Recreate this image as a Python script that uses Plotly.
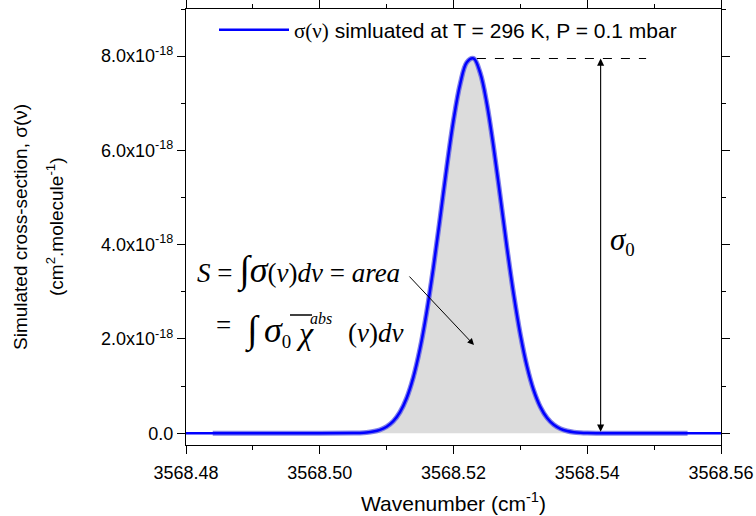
import plotly.graph_objects as go

# Absorption cross-section profile (units of 1e-18 cm^2/molecule)
wavenumber = [3568.480, 3568.484, 3568.500, 3568.505, 3568.506, 3568.507, 3568.508,
              3568.509, 3568.510, 3568.511, 3568.512, 3568.513, 3568.514, 3568.515,
              3568.516, 3568.517, 3568.518, 3568.519, 3568.520, 3568.521, 3568.522,
              3568.523, 3568.524, 3568.525, 3568.526, 3568.527, 3568.528, 3568.529,
              3568.530, 3568.531, 3568.532, 3568.533, 3568.534, 3568.535, 3568.536,
              3568.537, 3568.538, 3568.539, 3568.540, 3568.542, 3568.545, 3568.555,
              3568.560]
sigma_e18 = [0.0, 0.0, 0.0, 0.003, 0.007, 0.016, 0.035,
             0.071, 0.138, 0.255, 0.448, 0.748, 1.19, 1.795,
             2.58, 3.52, 4.57, 5.65, 6.64, 7.41, 7.87,
             7.95, 7.64, 6.98, 6.06, 5.01, 3.93, 2.94,
             2.09, 1.41, 0.906, 0.554, 0.322, 0.178, 0.093,
             0.047, 0.022, 0.010, 0.004, 0.0, 0.0, 0.0,
             0.0]
sigma = [v * 1e-18 for v in sigma_e18]

sigma0 = 7.95e-18
peak_x = 3568.5235
dash_end_x = 3568.5488
arrow_x = 3568.5420

x_range = [3568.48, 3568.56]
y_range = [-0.25e-18, 9.0e-18]
x_ticks = [3568.48, 3568.50, 3568.52, 3568.54, 3568.56]
x_ticktext = ["3568.48", "3568.50", "3568.52", "3568.54", "3568.56"]
y_ticks = [0, 2e-18, 4e-18, 6e-18, 8e-18]
y_ticktext = ["0.0", "2.0x10<sup>-18</sup>", "4.0x10<sup>-18</sup>",
              "6.0x10<sup>-18</sup>", "8.0x10<sup>-18</sup>"]

# plot area in pixels
L, R, T, B = 186, 721, 9, 445


def px_x(px):
    return x_range[0] + (px - L) * (x_range[1] - x_range[0]) / (R - L)


def px_y(py):
    return y_range[0] + (B - py) * (y_range[1] - y_range[0]) / (B - T)


def paper_x(px):
    return (px - L) / (R - L)


def paper_y(py):
    return (B - py) / (B - T)


fig = go.Figure()

# filled area with lighter border
fig.add_trace(go.Scatter(
    x=wavenumber[1:-1], y=sigma[1:-1], mode="lines", fill="tozeroy",
    fillcolor="#dcdcdc", line=dict(color="rgba(95,95,230,0.8)", width=5, shape="spline"),
    showlegend=False, hoverinfo="skip"))

# main line
fig.add_trace(go.Scatter(
    x=wavenumber, y=sigma, mode="lines",
    line=dict(color="#0000ff", width=2.5, shape="spline"),
    name="<span style='font-family:Liberation Serif'>σ(ν)</span> simluated at T = 296 K, P = 0.1 mbar"))

# dashed level line at sigma0
fig.add_shape(type="line", x0=peak_x, x1=dash_end_x, y0=sigma0, y1=sigma0,
              line=dict(color="black", width=1.2, dash="dash"))

# double arrow
fig.add_annotation(x=arrow_x, y=sigma0, ax=arrow_x, ay=0, xref="x", yref="y",
                   axref="x", ayref="y", showarrow=True, arrowhead=2, arrowsize=1.3,
                   arrowwidth=1.1, arrowcolor="black", text="", startarrowhead=2,
                   arrowside="end+start", startarrowsize=1.3)

serif = "Liberation Serif"

fig.add_annotation(x=px_x(608), y=px_y(241), xref="x", yref="y", showarrow=False,
                   text="<span style='font-size:31px'><i>σ</i></span><sub>0</sub>",
                   xanchor="left", yanchor="middle",
                   font=dict(family=serif, size=27, color="black"))

# area arrow
fig.add_annotation(x=px_x(474), y=px_y(345), ax=px_x(408), ay=px_y(275),
                   xref="x", yref="y", axref="x", ayref="y", showarrow=True,
                   arrowhead=2, arrowsize=1.3, arrowwidth=1, arrowcolor="black", text="")

big_int = "<span style='font-size:38px'>∫</span>"
big_sigma = "<span style='font-size:36px'><i>σ</i></span>"

# formula line 1
fig.add_annotation(x=px_x(195), y=px_y(270), xref="x", yref="y", showarrow=False,
                   xanchor="left", yanchor="middle",
                   text="<i>S</i> = " + big_int + big_sigma + "(<i>v</i>)<i>dv</i> = <i>area</i>",
                   font=dict(family=serif, size=27, color="black"))
# formula line 2 pieces
fig.add_annotation(x=px_x(214), y=px_y(325), xref="x", yref="y", showarrow=False,
                   xanchor="left", yanchor="middle", text="=",
                   font=dict(family=serif, size=27, color="black"))
fig.add_annotation(x=px_x(243), y=px_y(330), xref="x", yref="y", showarrow=False,
                   xanchor="left", yanchor="middle", text=big_int,
                   font=dict(family=serif, size=27, color="black"))
fig.add_annotation(x=px_x(262), y=px_y(331), xref="x", yref="y", showarrow=False,
                   xanchor="left", yanchor="middle", text=big_sigma + "<sub>0</sub>",
                   font=dict(family=serif, size=27, color="black"))
fig.add_annotation(x=px_x(294), y=px_y(333), xref="x", yref="y", showarrow=False,
                   xanchor="left", yanchor="middle", text="<i>χ</i>",
                   font=dict(family=serif, size=32, color="black"))
fig.add_shape(type="line", x0=px_x(290), x1=px_x(312), y0=px_y(315), y1=px_y(315),
              line=dict(color="black", width=1.5))
fig.add_annotation(x=px_x(308), y=px_y(318), xref="x", yref="y", showarrow=False,
                   xanchor="left", yanchor="middle", text="<i>abs</i>",
                   font=dict(family=serif, size=16, color="black"))
fig.add_annotation(x=px_x(346), y=px_y(333), xref="x", yref="y", showarrow=False,
                   xanchor="left", yanchor="middle", text="(<i>v</i>)<i>dv</i>",
                   font=dict(family=serif, size=27, color="black"))

# y axis title as two lines
fig.add_annotation(x=paper_x(20), y=0.5, xref="paper", yref="paper", showarrow=False,
                   textangle=-90, xanchor="center", yanchor="middle",
                   text="Simulated cross-section, σ(ν)",
                   font=dict(family="Arial", size=19, color="black"))
fig.add_annotation(x=paper_x(55), y=0.5, xref="paper", yref="paper", showarrow=False,
                   textangle=-90, xanchor="center", yanchor="middle",
                   text="(cm<sup>2</sup>.molecule<sup>-1</sup>)",
                   font=dict(family="Arial", size=19, color="black"))

axis_common = dict(showline=True, linecolor="black", linewidth=1.3, mirror="allticks",
                   ticks="outside", tickcolor="black", tickwidth=1.3, ticklen=8,
                   showgrid=False, zeroline=False,
                   tickfont=dict(family="Arial", size=18, color="black"))

fig.update_xaxes(range=x_range, tickvals=x_ticks, ticktext=x_ticktext,
                 minor=dict(dtick=0.01, tick0=3568.48, ticks="outside", ticklen=4,
                            tickcolor="black", tickwidth=1.3),
                 ticklabelstandoff=3,
                 title=dict(text="Wavenumber (cm<sup>-1</sup>)", standoff=14,
                            font=dict(family="Arial", size=21, color="black")),
                 **axis_common)
fig.update_yaxes(range=y_range, tickvals=y_ticks, ticktext=y_ticktext,
                 minor=dict(dtick=1e-18, tick0=0, ticks="outside", ticklen=4,
                            tickcolor="black", tickwidth=1.3),
                 **axis_common)

fig.update_layout(
    width=756, height=516,
    margin=dict(l=L, r=756 - R, t=T, b=516 - B, autoexpand=False),
    paper_bgcolor="white", plot_bgcolor="white",
    showlegend=True,
    legend=dict(x=paper_x(214), y=paper_y(30), xanchor="left", yanchor="middle",
                bgcolor="rgba(0,0,0,0)", font=dict(family="Arial", size=21, color="black"),
                itemwidth=70),
)

fig.write_html("out.html", config={"displayModeBar": False},
               post_script="document.body.style.margin='0px';")
